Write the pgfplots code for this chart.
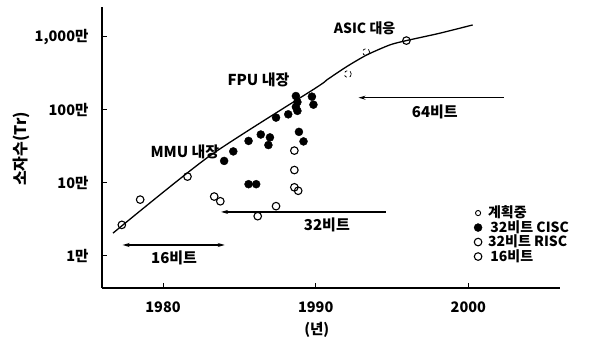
\documentclass[border=0pt]{standalone}
\usepackage{fontspec}
\setmainfont{Noto Sans CJK KR}
\usepackage{pgfplots}
\pgfplotsset{compat=1.18}
\usetikzlibrary{arrows.meta}
\begin{document}
\begin{tikzpicture}
\begin{axis}[name=ax, scale only axis, width=458pt, height=281pt,
  xmin=1976, xmax=2006, ymode=log, ymin=0.363, ymax=2570,
  axis lines=left, axis line style={-, line width=1.2pt},
  xtick={1980,1990,2000}, xticklabels={1980,1990,2000},
  ytick={1,10,100,1000}, yticklabels={1만,10만,100만,{1,000만}},
  yminorticks=false, tick align=inside, major tick length=5pt,
  tick style={line width=1pt, black},
  /pgf/number format/assume math mode=true,
  ticklabel style={font=\bfseries\fontsize{14.5}{15}\selectfont},
  xticklabel style={yshift=-10pt},
  yticklabel style={xshift=-10pt},
  xlabel={(년)}, ylabel={소자수(Tr)},
  xlabel style={font=\bfseries\fontsize{14.5}{15}\selectfont, at={(axis description cs:0.469,-0.149)}, anchor=center},
  ylabel style={font=\bfseries\fontsize{16}{17}\selectfont, at={(axis description cs:-0.175,0.495)}, anchor=center},
  legend style={draw=none, fill=none, at={(axis description cs:0.812,0.287)}, anchor=north west,
    font=\bfseries\fontsize{14}{14}\selectfont, row sep=3.5pt, inner sep=0pt,
    nodes={inner sep=0pt, text height=10pt, text depth=1pt},
    /tikz/every odd column/.append style={column sep=6pt}},
  legend cell align=left,
  clip=false]
% planned
\addplot[only marks, mark=o, mark size=3.5pt, mark options={line width=0.7pt, dashed, fill=white},
  legend image code/.code={\draw[line width=0.9pt, solid] (0.3cm,0cm) circle (2.6pt);}] coordinates {(1993.3,620) (1992.1,310)};
\addlegendentry{계획중}
% 32-bit CISC
\addplot[only marks, mark=*, mark size=4pt, black] coordinates {
(1984.0,20) (1984.6,27) (1985.6,37.6) (1986.4,46) (1987.0,42) (1986.9,33)
(1987.4,78.5) (1988.2,87) (1988.7,155) (1988.8,128) (1988.7,110) (1988.8,97)
(1989.75,152) (1989.85,118) (1988.9,50) (1989.2,37) (1985.6,9.6) (1986.1,9.6)};
\addlegendentry{\,32비트 CISC}
% 32-bit RISC
\addplot[only marks, mark=o, mark size=3.8pt, mark options={line width=1.1pt, fill=white}] coordinates {
(1986.2,3.5) (1987.4,4.8) (1988.6,27.7) (1988.6,15) (1988.6,8.7) (1988.85,7.8)};
\addlegendentry{32비트 RISC}
% 16-bit
\addplot[only marks, mark=o, mark size=3.8pt, mark options={line width=1.1pt, fill=white}] coordinates {
(1977.3,2.66) (1978.5,5.9) (1981.6,12.2) (1983.35,6.5) (1983.75,5.6)};
\addlegendentry{\,16비트}
% trend line
\addplot[line width=1.3pt, smooth, tension=0.4, forget plot] coordinates {
(1976.72,2.05) (1983.0,23) (1990.0,200) (1990.73,258) (1992.03,392) (1993.34,566)
(1994.85,777) (1995.94,891) (1998.11,1122) (2000.28,1459)};
\addplot[only marks, mark=o, mark size=3.8pt, mark options={line width=1.1pt, fill=white}, forget plot] coordinates {(1995.94,891)};
% arrows
\draw[{Stealth[length=7pt,width=4pt]}-{Stealth[length=7pt,width=4pt]}, line width=1.2pt] (axis cs:1977.35,1.41) -- (axis cs:1984.04,1.41);
\draw[{Stealth[length=7pt,width=4pt]}-, line width=1.2pt] (axis cs:1983.8,4.0) -- (axis cs:1994.6,4.0);
\draw[{Stealth[length=7pt,width=4pt]}-, line width=1.2pt] (axis cs:1992.8,147) -- (axis cs:2002.3,147);
% annotations
\begin{scope}[every node/.style={font=\bfseries\fontsize{15}{16}\selectfont}]
\node at (axis cs:1980.72,0.94) {16비트};
\node at (axis cs:1990.73,2.66) {32비트};
\node at (axis cs:1997.8,94.8) {64비트};
\node[font=\bfseries\fontsize{14}{15}\selectfont] at (axis cs:1993.2,1325) {ASIC 대응};
\node at (axis cs:1986.25,257) {FPU 내장};
\node at (axis cs:1981.43,26.6) {MMU 내장};
\end{scope}
\end{axis}
\pgfresetboundingbox
\path[use as bounding box] ([shift={(-102pt,-66pt)}]ax.south west) rectangle ([shift={(32pt,7pt)}]ax.north east);
\end{tikzpicture}
\end{document}
